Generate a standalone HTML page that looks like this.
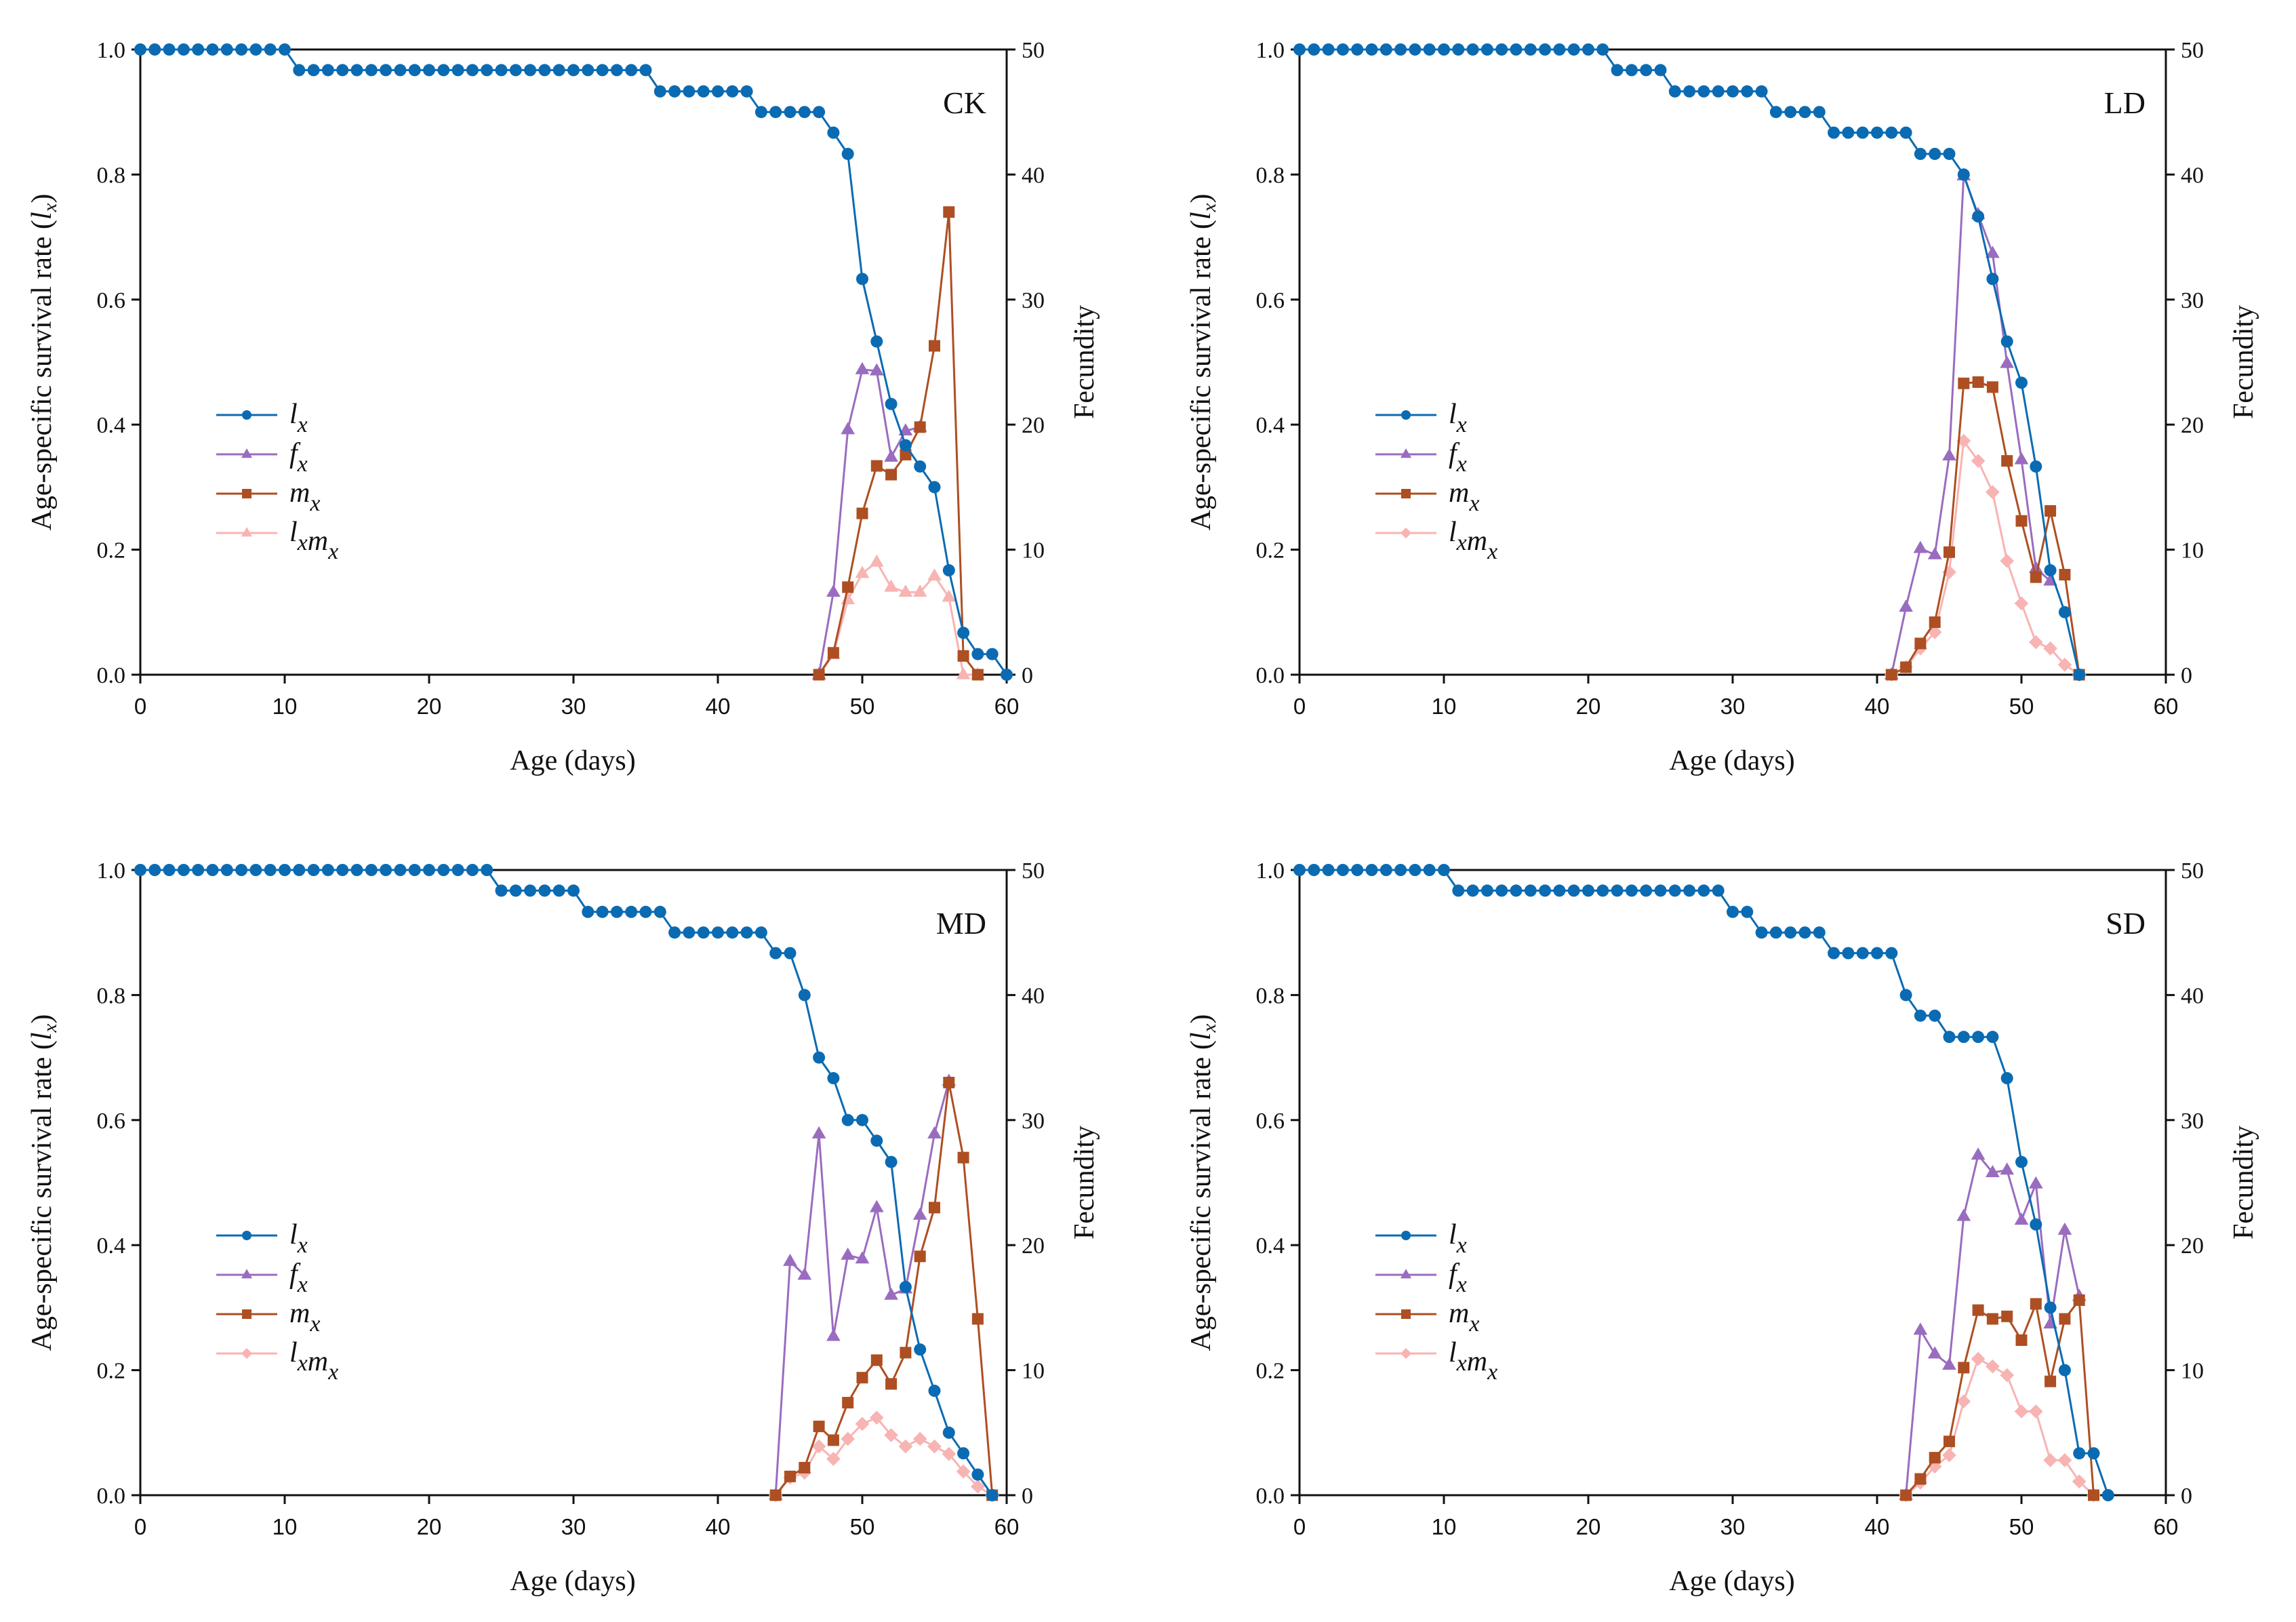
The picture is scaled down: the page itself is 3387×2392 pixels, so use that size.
<!DOCTYPE html>
<html><head><meta charset="utf-8"><style>
html,body{margin:0;padding:0;background:#fff}
svg{display:block}
text{font-family:"Liberation Serif",serif;fill:#111}
.sans{font-family:"Liberation Sans",sans-serif}
</style></head><body>
<svg id="fig" width="3387" height="2392" viewBox="0 0 3387 2392" xmlns="http://www.w3.org/2000/svg"></svg>
<script>
// ---- data ----
const panelNames = ["CK","LD","MD","SD"];
const ckLx = [1,1,1,1,1,1,1,1,1,1,1,0.967,0.967,0.967,0.967,0.967,0.967,0.967,0.967,0.967,0.967,0.967,0.967,0.967,0.967,0.967,0.967,0.967,0.967,0.967,0.967,0.967,0.967,0.967,0.967,0.967,0.933,0.933,0.933,0.933,0.933,0.933,0.933,0.9,0.9,0.9,0.9,0.9,0.867,0.833,0.633,0.533,0.433,0.367,0.333,0.3,0.167,0.067,0.033,0.033,0];
const ckFxStart = 47; const ckFx = [0,6.6,19.6,24.4,24.3,17.4,19.5,19.8];
const ckMxStart = 47; const ckMx = [0,1.75,7.0,12.9,16.7,16.0,17.6,19.8,26.3,37,1.5,0];
const ckLmStart = 47; const ckLm = [0,1.6,6.0,8.1,9.0,7.0,6.6,6.6,7.9,6.2,0,0];

const ldLx = [1,1,1,1,1,1,1,1,1,1,1,1,1,1,1,1,1,1,1,1,1,1,0.967,0.967,0.967,0.967,0.933,0.933,0.933,0.933,0.933,0.933,0.933,0.9,0.9,0.9,0.9,0.867,0.867,0.867,0.867,0.867,0.867,0.833,0.833,0.833,0.8,0.733,0.633,0.533,0.467,0.333,0.167,0.1,0];
const ldFxStart = 41; const ldFx = [0,5.4,10.1,9.6,17.5,39.9,36.8,33.7,24.9,17.2,8.5,7.5];
const ldMxStart = 41; const ldMx = [0,0.6,2.5,4.2,9.8,23.3,23.4,23.0,17.1,12.3,7.8,13.1,8.0,0];
const ldLmStart = 41; const ldLm = [0,0.6,2.1,3.4,8.2,18.7,17.1,14.6,9.1,5.7,2.6,2.1,0.8,0];

const mdLx = [1,1,1,1,1,1,1,1,1,1,1,1,1,1,1,1,1,1,1,1,1,1,1,1,1,0.967,0.967,0.967,0.967,0.967,0.967,0.933,0.933,0.933,0.933,0.933,0.933,0.9,0.9,0.9,0.9,0.9,0.9,0.9,0.867,0.867,0.8,0.7,0.667,0.6,0.6,0.567,0.533,0.333,0.233,0.167,0.1,0.067,0.033,0];
const mdFxStart = 44; const mdFx = [0,18.7,17.6,28.9,12.7,19.2,18.9,23.0,16.0,16.5,22.4,28.9,33.1];
const mdMxStart = 44; const mdMx = [0,1.5,2.2,5.5,4.4,7.4,9.4,10.8,8.9,11.4,19.1,23.0,33.0,27.0,14.1,0];
const mdLmStart = 44; const mdLm = [0,1.4,1.8,3.9,2.9,4.5,5.7,6.2,4.8,3.9,4.5,3.9,3.3,1.9,0.7,0];

const sdLx = [1,1,1,1,1,1,1,1,1,1,1,0.967,0.967,0.967,0.967,0.967,0.967,0.967,0.967,0.967,0.967,0.967,0.967,0.967,0.967,0.967,0.967,0.967,0.967,0.967,0.933,0.933,0.9,0.9,0.9,0.9,0.9,0.867,0.867,0.867,0.867,0.867,0.8,0.767,0.767,0.733,0.733,0.733,0.733,0.667,0.533,0.433,0.3,0.2,0.067,0.067,0];
const sdFxStart = 42; const sdFx = [0,13.2,11.3,10.4,22.3,27.2,25.8,26.0,22.0,24.9,13.7,21.2,15.9];
const sdMxStart = 42; const sdMx = [0,1.3,3.0,4.3,10.2,14.8,14.1,14.3,12.4,15.3,9.1,14.1,15.6,0];
const sdLmStart = 42; const sdLm = [0,1.0,2.3,3.2,7.5,10.9,10.3,9.6,6.7,6.7,2.8,2.8,1.1,0];

const xTicks = [0,10,20,30,40,50,60];
const yLeftTicks = ["0.0","0.2","0.4","0.6","0.8","1.0"];
const yRightTicks = [0,10,20,30,40,50];

const panels = [
 {name:"CK",lx:ckLx,fx:ckFx,fs:ckFxStart,mx:ckMx,ms:ckMxStart,lm:ckLm,ls:ckLmStart,lmTri:true},
 {name:"LD",lx:ldLx,fx:ldFx,fs:ldFxStart,mx:ldMx,ms:ldMxStart,lm:ldLm,ls:ldLmStart,lmTri:false},
 {name:"MD",lx:mdLx,fx:mdFx,fs:mdFxStart,mx:mdMx,ms:mdMxStart,lm:mdLm,ls:mdLmStart,lmTri:false},
 {name:"SD",lx:sdLx,fx:sdFx,fs:sdFxStart,mx:sdMx,ms:sdMxStart,lm:sdLm,ls:sdLmStart,lmTri:false}
];
const C = {lx:"#0a6bb3",fx:"#9a6cbf",mx:"#ad4f22",lm:"#f8b3b3"};
const NS = "http://www.w3.org/2000/svg";
const svg = document.getElementById('fig');
function mk(tag, attrs, parent){const e=document.createElementNS(NS,tag);for(const k in attrs)e.setAttribute(k,attrs[k]);(parent||svg).appendChild(e);return e;}

const origins = [[207,73],[1917,73],[207,1283],[1917,1283]];
const W = 1278, H = 922;

function marker(g, type, x, y, color, s){
  let e;
  if(type==="circle") e=mk('circle',{cx:x,cy:y,r:s,fill:color},g);
  else if(type==="square") e=mk('rect',{x:x-s,y:y-s,width:2*s,height:2*s,fill:color},g);
  else if(type==="tri") e=mk('polygon',{points:`${x},${y-s*1.25} ${x-s*1.15},${y+s*0.75} ${x+s*1.15},${y+s*0.75}`,fill:color},g);
  else e=mk('polygon',{points:`${x},${y-s*1.15} ${x+s*1.15},${y} ${x},${y+s*1.15} ${x-s*1.15},${y}`,fill:color},g);
  return e;
}

panels.forEach((p,pi)=>{
  const [ox,oy]=origins[pi];
  const xs = d => ox + d/60*W;
  const yl = v => oy + H - v*H;
  const yr = v => oy + H - v/50*H;
  const g = mk('g',{});
  
  
  const fr = mk('rect',{x:ox,y:oy,width:W,height:H,fill:"none",stroke:"#111","stroke-width":3},g);
  
  
  xTicks.forEach(t=>{
    mk('line',{x1:xs(t),x2:xs(t),y1:oy+H,y2:oy+H+13,stroke:"#111","stroke-width":3},g);
    const tx = mk('text',{x:xs(t),y:oy+H+58,"text-anchor":"middle","font-size":33,class:"sans"},g);
    tx.textContent=t;
    
    
  });
  yLeftTicks.forEach(t=>{
    const v=parseFloat(t);
    mk('line',{x1:ox-13,x2:ox,y1:yl(v),y2:yl(v),stroke:"#111","stroke-width":3},g);
    const tx = mk('text',{x:ox-22,y:yl(v)+12,"text-anchor":"end","font-size":34},g);
    tx.textContent=t;
    
    
  });
  yRightTicks.forEach(t=>{
    mk('line',{x1:ox+W,x2:ox+W+13,y1:yr(t),y2:yr(t),stroke:"#111","stroke-width":3},g);
    const tx = mk('text',{x:ox+W+22,y:yr(t)+12,"text-anchor":"start","font-size":34},g);
    tx.textContent=t;
    
    
  });
  const xt = mk('text',{x:ox+638,y:oy+H+140,"text-anchor":"middle","font-size":42},g);
  xt.textContent="Age (days)";
  
  
  const yt = mk('text',{x:0,y:0,"text-anchor":"middle","font-size":42,transform:`translate(${ox-132},${oy+H/2}) rotate(-90)`},g);
  yt.innerHTML='Age-specific survival rate (<tspan font-style="italic">l</tspan><tspan font-style="italic" font-size="29" dy="8">x</tspan><tspan dy="-8">)</tspan>';
  
  
  const yt2 = mk('text',{x:0,y:0,"text-anchor":"middle","font-size":42,transform:`translate(${ox+W+128},${oy+H/2}) rotate(-90)`},g);
  yt2.textContent="Fecundity";
  
  
  const pl = mk('text',{x:ox+W-30,y:oy+94,"text-anchor":"end","font-size":46},g);
  pl.textContent=p.name;
  
  

  function series(vals,start,ys,color,type,name,sz){
    const sg = mk('g',{},g);
    
    
    const pts = vals.map((v,i)=>xs(start+i).toFixed(1)+','+ys(v).toFixed(1)).join(' ');
    const pl = mk('polyline',{points:pts,fill:"none",stroke:color,"stroke-width":3,"stroke-linejoin":"round"},sg);
    
    
    vals.forEach((v,i)=>{
      const m = marker(sg,type,xs(start+i),ys(v),color,sz);
      
      
    });
  }
  const lmType = p.lmTri ? "tri" : "diamond";
  series(p.lm,p.ls,yr,C.lm,lmType,'lxmx',9);
  series(p.fx,p.fs,yr,C.fx,'tri','fx',9);
  series(p.mx,p.ms,yr,C.mx,'square','mx',8.5);
  series(p.lx,0,yl,C.lx,'circle','lx',9);

  const lg = mk('g',{},g);
  
  
  const entries=[["lx",C.lx,"circle"],["fx",C.fx,"tri"],["mx",C.mx,"square"],["lxmx",C.lm,lmType]];
  entries.forEach((e,i)=>{
    const y = oy + 539 + i*58;
    const eg = mk('g',{},lg);
    
    
    mk('line',{x1:ox+112,x2:ox+202,y1:y,y2:y,stroke:e[1],"stroke-width":3},eg);
    marker(eg,e[2],ox+157,y,e[1],7);
    const t = mk('text',{x:ox+220,y:y+12,"font-size":42,"font-style":"italic"},eg);
    const sub = (c)=>`<tspan>${c}</tspan><tspan font-size="34" dy="13">x</tspan><tspan dy="-13"></tspan>`;
    if(e[0]==="lxmx") t.innerHTML = sub('l')+sub('m');
    else t.innerHTML = sub(e[0][0]);
  });
});
</script>
</body></html>
